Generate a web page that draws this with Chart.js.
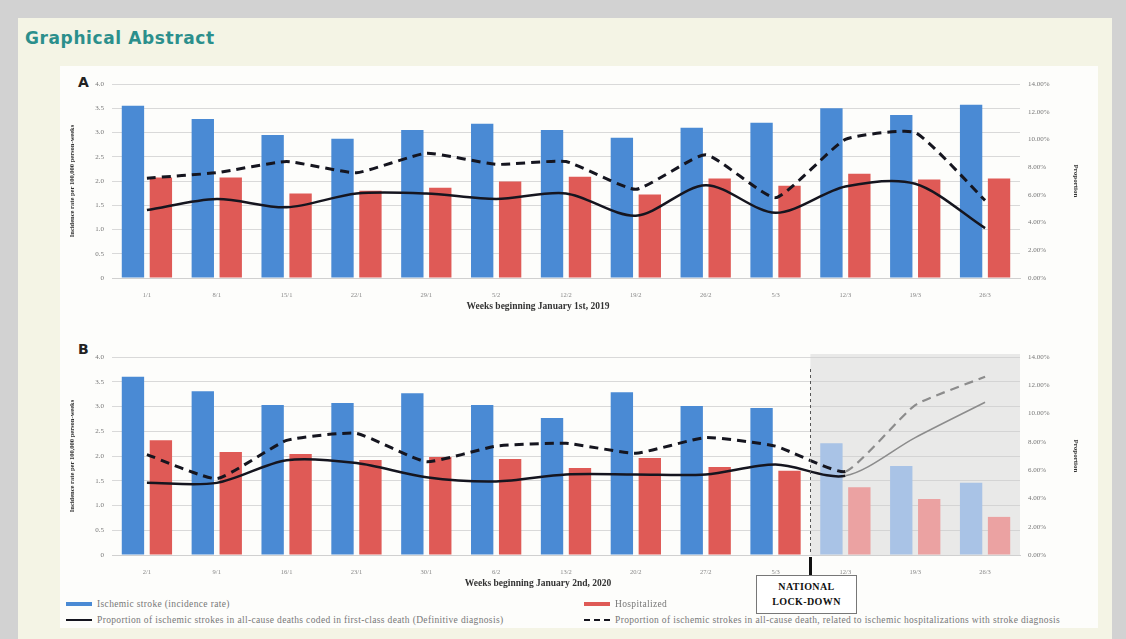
<!DOCTYPE html>
<html>
<head>
<meta charset="utf-8">
<title>Graphical Abstract</title>
<script src="https://cdn.jsdelivr.net/npm/chart.js@4.4.1/dist/chart.umd.min.js"></script>
<style>
  html, body { margin: 0; padding: 0; }
  body { width: 1126px; height: 639px; background: #d2d2d2; position: relative; overflow: hidden; font-family: "Liberation Serif", serif; }
  #sheet { position: absolute; left: 18px; top: 18px; width: 1094px; height: 621px; background: #f4f4e5; }
  #panelbox { position: absolute; left: 60px; top: 66px; width: 1038px; height: 562px; background: #fdfdfb; }
  #heading { position: absolute; left: 25px; top: 28px; font: bold 17px "DejaVu Sans", sans-serif; color: #2b8f8c; letter-spacing: 0.6px; }
  .tag { position: absolute; font: bold 14px "DejaVu Sans", sans-serif; color: #222; }
  .wrap { position: absolute; }
  .xtitle { position: absolute; width: 300px; margin-left: -150px; text-align: center; font: bold 9.5px "Liberation Serif", serif; color: #333; white-space: nowrap; }
  #lockbox { position: absolute; left: 756px; top: 575px; width: 99px; height: 34px; border: 1px solid #777; background: #fff; text-align: center; font: bold 10px "Liberation Serif", serif; line-height: 15px; letter-spacing: 0.4px; color: #111; padding-top: 3px; box-sizing: content-box; }
  .leg { position: absolute; font: 9.5px "Liberation Serif", serif; letter-spacing: 0.35px; color: #777; white-space: nowrap; display: flex; align-items: center; height: 10px; }
  .sw { display: inline-block; width: 26px; margin-right: 5px; }
</style>
</head>
<body>
<div id="sheet"></div>
<div id="panelbox"></div>
<div id="heading">Graphical Abstract</div>
<div class="tag" style="left:78px;top:74px;">A</div>
<div class="tag" style="left:78px;top:341px;">B</div>

<div class="wrap" style="left:68px;top:70px;width:1014px;height:245px;">
  <canvas id="chartA" width="1014" height="245"></canvas>
</div>
<div class="wrap" style="left:68px;top:343px;width:1014px;height:250px;">
  <canvas id="chartB" width="1014" height="250"></canvas>
</div>

<div class="xtitle" id="xtA" style="left:538px;top:301px;"></div>
<div class="xtitle" id="xtB" style="left:538px;top:578px;"></div>
<div id="legend"></div>
<div id="lockbox">NATIONAL<br>LOCK-DOWN</div>

<script>
// Week labels (day/month of each week's first day)
const weeks2019 = ['1/1', '8/1', '15/1', '22/1', '29/1', '5/2', '12/2', '19/2', '26/2', '5/3', '12/3', '19/3', '26/3'];
const weeks2020 = ['2/1', '9/1', '16/1', '23/1', '30/1', '6/2', '13/2', '20/2', '27/2', '5/3', '12/3', '19/3', '26/3'];

// Panel A (2019): incidence rates per 100,000 person-weeks
const strokeRateA = [3.55, 3.28, 2.95, 2.87, 3.05, 3.18, 3.05, 2.89, 3.10, 3.20, 3.50, 3.36, 3.57];
const hospitalRateA = [2.07, 2.07, 1.74, 1.80, 1.86, 1.99, 2.09, 1.72, 2.05, 1.90, 2.15, 2.03, 2.05];
// Panel A proportions (%)
const deathShareA = [4.9, 5.7, 5.1, 6.1, 6.1, 5.7, 6.1, 4.5, 6.7, 4.7, 6.6, 6.8, 3.6];
const hospDeathShareA = [7.2, 7.6, 8.4, 7.6, 9.0, 8.2, 8.4, 6.4, 8.9, 5.8, 10.0, 10.5, 5.6];

// Panel B (2020)
const strokeRateB = [3.60, 3.31, 3.03, 3.07, 3.27, 3.03, 2.77, 3.29, 3.01, 2.97, 2.26, 1.80, 1.46];
const hospitalRateB = [2.32, 2.08, 2.04, 1.92, 1.98, 1.94, 1.76, 1.96, 1.78, 1.70, 1.37, 1.13, 0.77];
const deathShareB = [5.1, 5.1, 6.7, 6.5, 5.5, 5.2, 5.7, 5.7, 5.7, 6.4, 5.6, 8.3, 10.8];
const hospDeathShareB = [7.1, 5.4, 8.1, 8.6, 6.6, 7.7, 7.9, 7.2, 8.3, 7.7, 5.9, 10.6, 12.6];

// First week after the national lock-down (index into weeks2020)
const lockdownIndex = 10;

// Axis ticks
const rateTicks = { min: 0, max: 4, step: 0.5 };
const shareTicks = { min: 0, max: 14, step: 2 };

// Texts
const seriesNames = [
  'Ischemic stroke (incidence rate)',
  'Hospitalized',
  'Proportion of ischemic strokes in all-cause deaths coded in first-class death (Definitive diagnosis)',
  'Proportion of ischemic strokes in all-cause death, related to ischemic hospitalizations with stroke diagnosis'
];
const rateTitle = 'Incidence rate per 100,000 person-weeks';
const shareTitle = 'Proportion';
const xTitleA = 'Weeks beginning January 1st, 2019';
const xTitleB = 'Weeks beginning January 2nd, 2020';

const BLUE = '#4a8ad4', RED = '#df5a56';
const BLUE_FADED = '#a9c3e6', RED_FADED = '#eba2a2';
const LINE = '#15151f', LINE_FADED = '#8c8c8c';
const FONT = '"Liberation Serif", serif';

document.getElementById('xtA').textContent = xTitleA;
document.getElementById('xtB').textContent = xTitleB;

// Shaded post-lock-down weeks, dashed divider and pointer below the axis
const lockdownPlugin = {
  id: 'lockdown',
  beforeDatasetsDraw(chart, args, opts) {
    if (opts.index == null) return;
    const { ctx, chartArea: a, scales: { x } } = chart;
    const step = x.getPixelForValue(1) - x.getPixelForValue(0);
    const bx = x.getPixelForValue(opts.index) - step / 2;
    ctx.save();
    ctx.fillStyle = 'rgba(205,205,205,0.42)';
    ctx.fillRect(bx, a.top - 3, a.right - bx, a.bottom - a.top + 3);
    ctx.restore();
  },
  afterDatasetsDraw(chart, args, opts) {
    if (opts.index == null) return;
    const { ctx, chartArea: a, scales: { x } } = chart;
    const step = x.getPixelForValue(1) - x.getPixelForValue(0);
    const bx = Math.round(x.getPixelForValue(opts.index) - step / 2) + 0.5;
    ctx.save();
    ctx.strokeStyle = '#555';
    ctx.lineWidth = 1;
    ctx.setLineDash([3, 3]);
    ctx.beginPath();
    ctx.moveTo(bx, a.top + 12);
    ctx.lineTo(bx, a.bottom);
    ctx.stroke();
    ctx.setLineDash([]);
    ctx.strokeStyle = '#111';
    ctx.lineWidth = 3;
    ctx.beginPath();
    ctx.moveTo(bx, a.bottom + 2);
    ctx.lineTo(bx, a.bottom + 20);
    ctx.stroke();
    ctx.restore();
  }
};

function buildChart(id, labels, rate, hosp, share, hospShare, fadeFrom, xHeight) {
  const fade = (i) => fadeFrom != null && i >= fadeFrom;
  const segColor = (c) => fade(c.p0DataIndex) ? LINE_FADED : LINE;
  return new Chart(document.getElementById(id), {
    data: {
      labels,
      datasets: [
        { type: 'line', label: seriesNames[2], data: share, yAxisID: 'y1', order: 0,
          borderColor: LINE, borderWidth: 2.5, tension: 0.3, pointRadius: 0,
          segment: { borderColor: segColor, borderWidth: (c) => fade(c.p0DataIndex) ? 1.6 : 2.5 } },
        { type: 'line', label: seriesNames[3], data: hospShare, yAxisID: 'y1', order: 0,
          borderColor: LINE, borderWidth: 3, borderDash: [9, 6], tension: 0.15, pointRadius: 0,
          segment: { borderColor: segColor, borderWidth: (c) => fade(c.p0DataIndex) ? 2.2 : 3 } },
        { type: 'bar', label: seriesNames[0], data: rate, yAxisID: 'y', order: 1,
          backgroundColor: rate.map((v, i) => fade(i) ? BLUE_FADED : BLUE),
          categoryPercentage: 0.8, barPercentage: 0.8 },
        { type: 'bar', label: seriesNames[1], data: hosp, yAxisID: 'y', order: 1,
          backgroundColor: hosp.map((v, i) => fade(i) ? RED_FADED : RED),
          categoryPercentage: 0.8, barPercentage: 0.8 }
      ]
    },
    options: {
      responsive: false,
      animation: false,
      layout: { padding: { top: 14, left: 0, right: 0, bottom: 0 } },
      plugins: {
        legend: { display: false },
        tooltip: { enabled: false },
        lockdown: { index: fadeFrom }
      },
      scales: {
        x: {
          grid: { display: false },
          border: { color: '#d0d0d0' },
          ticks: { font: { family: FONT, size: 6.5 }, color: '#888', padding: 5, maxRotation: 0 },
          afterFit(s) { s.height = xHeight; }
        },
        y: {
          position: 'left', min: rateTicks.min, max: rateTicks.max,
          grid: { color: '#d9d9d9', drawTicks: false },
          border: { display: false },
          ticks: { stepSize: rateTicks.step, padding: 8, font: { family: FONT, size: 7 }, color: '#777' },
          title: { display: true, text: rateTitle, font: { family: FONT, size: 6.5, weight: 'bold' }, color: '#333', padding: 0 },
          afterFit(s) { s.width = 44; }
        },
        y1: {
          position: 'right', min: shareTicks.min, max: shareTicks.max,
          grid: { display: false, drawTicks: false },
          border: { display: false },
          ticks: { stepSize: shareTicks.step, padding: 8, font: { family: FONT, size: 7 }, color: '#777',
                   callback: (v) => v.toFixed(2) + '%' },
          title: { display: true, text: shareTitle, font: { family: FONT, size: 7, weight: 'bold' }, color: '#333', padding: 2 },
          afterFit(s) { s.width = 62; }
        }
      }
    },
    plugins: [lockdownPlugin]
  });
}

buildChart('chartA', weeks2019, strokeRateA, hospitalRateA, deathShareA, hospDeathShareA, null, 37);
buildChart('chartB', weeks2020, strokeRateB, hospitalRateB, deathShareB, hospDeathShareB, lockdownIndex, 38);

// Legend below both panels
const legendItems = [
  { name: seriesNames[0], x: 66, y: 599, sw: `height:4px;background:${BLUE};` },
  { name: seriesNames[1], x: 584, y: 599, sw: `height:4px;background:${RED};` },
  { name: seriesNames[2], x: 66, y: 615, sw: `height:0;border-top:2.5px solid ${LINE};` },
  { name: seriesNames[3], x: 584, y: 615, sw: `height:0;border-top:2.5px dashed ${LINE};` }
];
const legend = document.getElementById('legend');
legendItems.forEach((it) => {
  const d = document.createElement('div');
  d.className = 'leg';
  d.style.left = it.x + 'px';
  d.style.top = it.y + 'px';
  const s = document.createElement('span');
  s.className = 'sw';
  s.setAttribute('style', it.sw);
  const t = document.createElement('span');
  t.textContent = it.name;
  d.appendChild(s);
  d.appendChild(t);
  legend.appendChild(d);
});
</script>
</body>
</html>
